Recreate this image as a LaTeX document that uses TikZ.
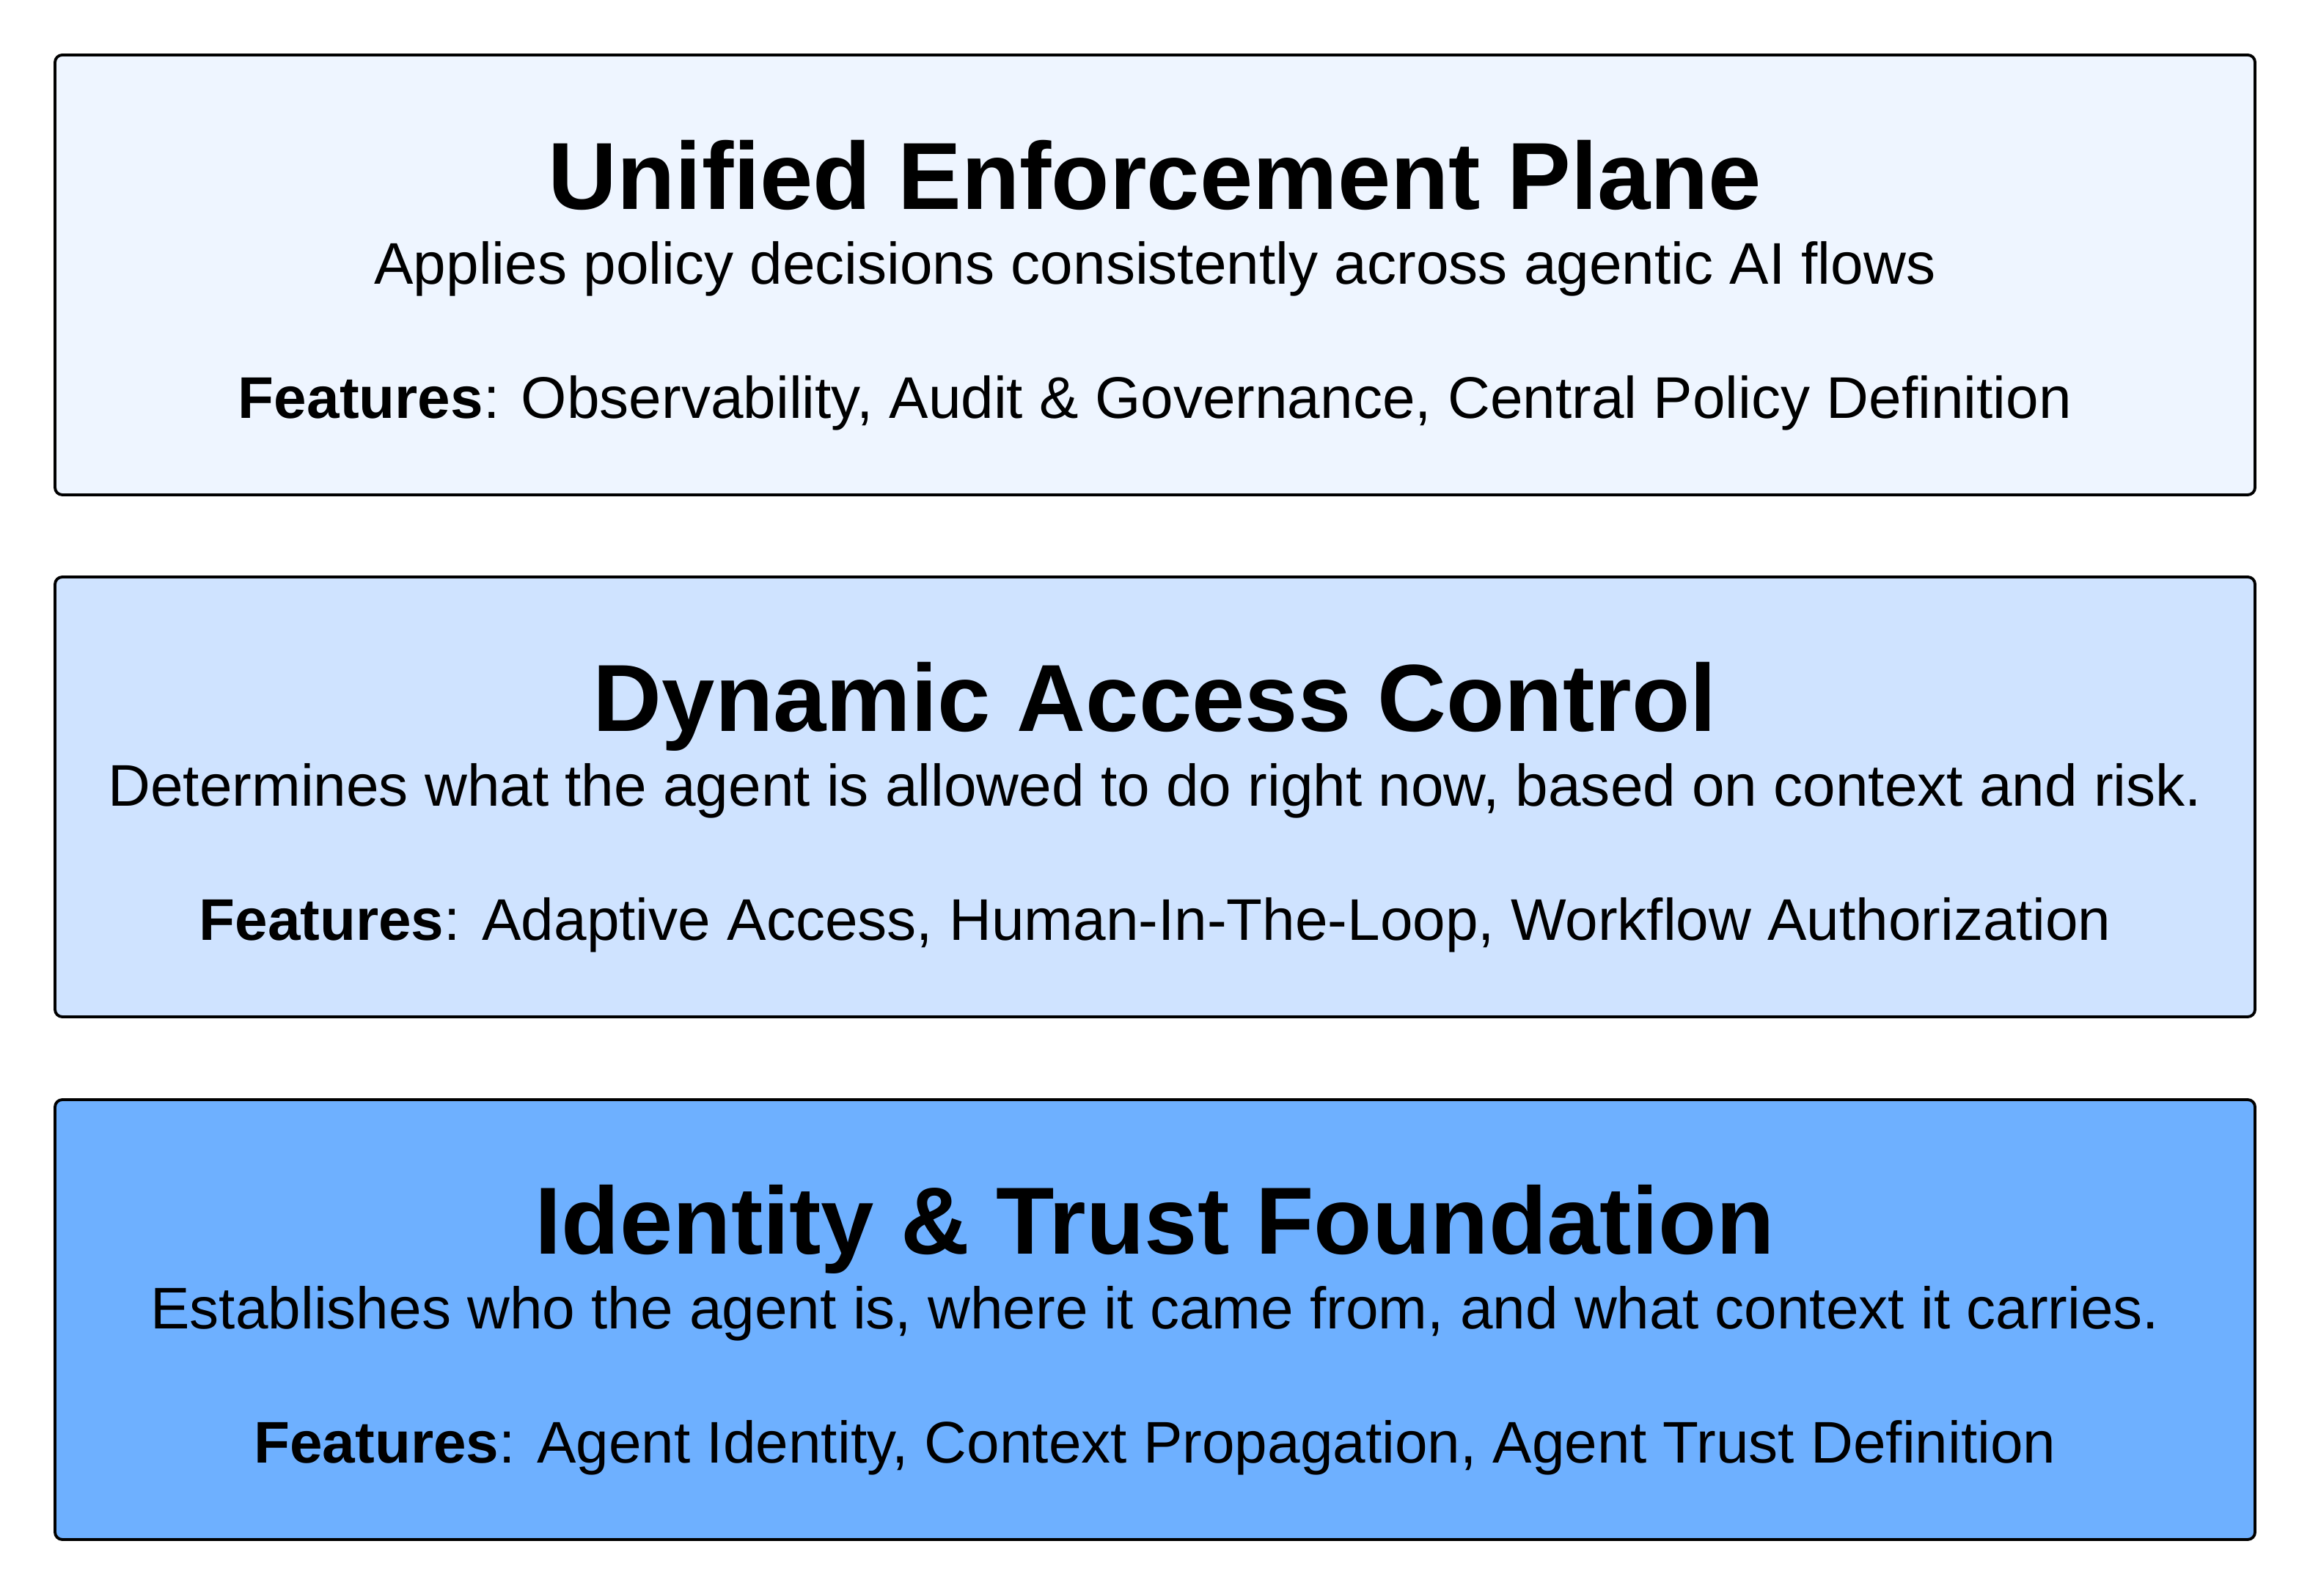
\documentclass[tikz,border=0pt]{standalone}
\usepackage{fontspec}
\setmainfont{Liberation Sans}
\usetikzlibrary{positioning}

\definecolor{planelight}{HTML}{EEF5FF}
\definecolor{planemid}{HTML}{CFE3FF}
\definecolor{planedeep}{HTML}{6EB0FF}

\tikzset{
  layer/.style={draw=black, line width=1.1pt, rounded corners=0.1cm,
    minimum width=30cm, minimum height=6cm, inner sep=0pt},
  layertitle/.style={anchor=base, inner sep=0pt,
    font=\fontsize{37}{44}\selectfont\bfseries},
  layertext/.style={anchor=base, inner sep=0pt,
    font=\fontsize{22.8}{27}\selectfont},
}

\begin{document}
\begin{tikzpicture}
  \useasboundingbox (0,0) rectangle (31.5,21.77);

  \node[layer, fill=planelight] (unified) at (15.75,18.02) {};
  \node[layertitle] (unifiedtitle) at ([yshift=-2.12cm]unified.north) {Unified Enforcement Plane};
  \node[layertext] (unifiedtext) at ([yshift=-3.14cm]unified.north) {Applies policy decisions consistently across agentic AI flows};
  \node[layertext] (unifiedfeat) at ([yshift=-4.97cm]unified.north) {\textbf{Features}: Observability, Audit \& Governance, Central Policy Definition};

  \node[layer, fill=planemid] (dynamic) at (15.75,10.90) {};
  \node[layertitle] (dynamictitle) at ([yshift=-2.12cm]dynamic.north) {Dynamic Access Control};
  \node[layertext] (dynamictext) at ([yshift=-3.14cm]dynamic.north) {Determines what the agent is allowed to do right now, based on context and risk.};
  \node[layertext] (dynamicfeat) at ([yshift=-4.97cm]dynamic.north) {\textbf{Features}: Adaptive Access, Human-In-The-Loop, Workflow Authorization};

  \node[layer, fill=planedeep] (identity) at (15.75,3.77) {};
  \node[layertitle] (identitytitle) at ([yshift=-2.12cm]identity.north) {Identity \& Trust Foundation};
  \node[layertext] (identitytext) at ([yshift=-3.14cm]identity.north) {Establishes who the agent is, where it came from, and what context it carries.};
  \node[layertext] (identityfeat) at ([yshift=-4.97cm]identity.north) {\textbf{Features}: Agent Identity, Context Propagation, Agent Trust Definition};
\end{tikzpicture}
\end{document}
